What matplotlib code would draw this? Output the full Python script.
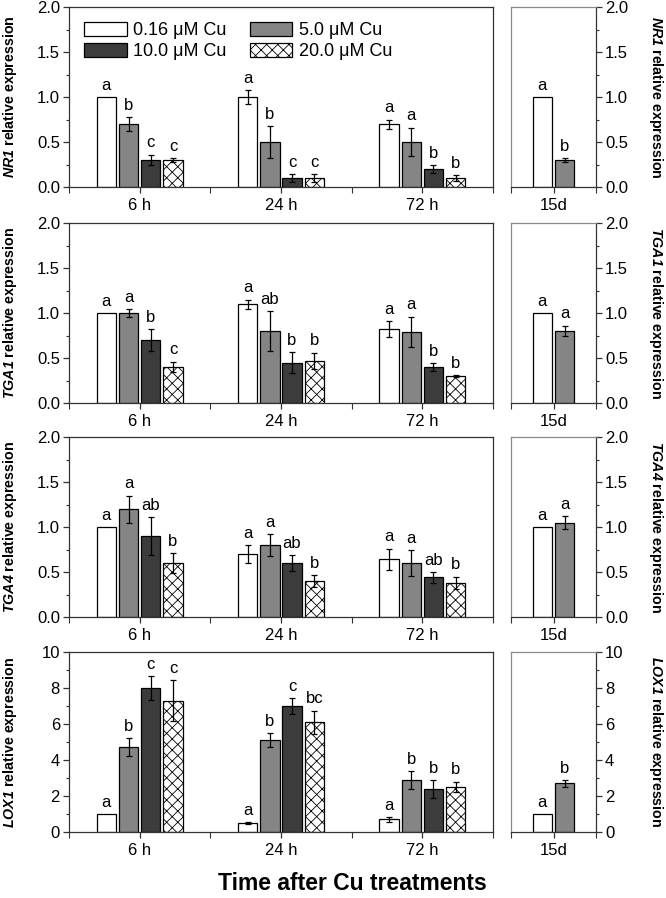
import matplotlib
matplotlib.use('Agg')
import matplotlib.pyplot as plt
from matplotlib.patches import Patch
from matplotlib.ticker import MultipleLocator, FixedLocator, FormatStrFormatter

plt.rcParams['font.family'] = ['Liberation Sans', 'DejaVu Sans']
plt.rcParams['mathtext.fontset'] = 'custom'
plt.rcParams['mathtext.rm'] = 'Liberation Sans'
plt.rcParams['mathtext.it'] = 'Liberation Sans:italic'
plt.rcParams['mathtext.bf'] = 'Liberation Sans:bold'
plt.rcParams['mathtext.bfit'] = 'Liberation Sans:bold:italic'
plt.rcParams['hatch.linewidth'] = 0.6

# ---------------- data ----------------
time_points = ['6 h', '24 h', '72 h']
long_term = '15d'
treatments = ['0.16 μM Cu', '5.0 μM Cu', '10.0 μM Cu', '20.0 μM Cu']
genes = ['NR1', 'TGA1', 'TGA4', 'LOX1']

# means per time point: [0.16, 5.0, 10.0, 20.0]
nr1_mean = [[1.0, 0.7, 0.3, 0.3], [1.0, 0.5, 0.1, 0.1], [0.7, 0.5, 0.2, 0.1]]
nr1_err = [[0.0, 0.08, 0.06, 0.02], [0.08, 0.18, 0.04, 0.04], [0.05, 0.16, 0.04, 0.03]]
nr1_letters = [['a', 'b', 'c', 'c'], ['a', 'b', 'c', 'c'], ['a', 'a', 'b', 'b']]
nr1_15d_mean = [1.0, 0.3]
nr1_15d_err = [0.0, 0.02]
nr1_15d_letters = ['a', 'b']

tga1_mean = [[1.0, 1.0, 0.7, 0.4], [1.1, 0.8, 0.45, 0.47], [0.82, 0.79, 0.4, 0.3]]
tga1_err = [[0.0, 0.04, 0.12, 0.06], [0.05, 0.22, 0.12, 0.09], [0.09, 0.17, 0.04, 0.01]]
tga1_letters = [['a', 'a', 'b', 'c'], ['a', 'ab', 'b', 'b'], ['a', 'a', 'b', 'b']]
tga1_15d_mean = [1.0, 0.8]
tga1_15d_err = [0.0, 0.06]
tga1_15d_letters = ['a', 'a']

tga4_mean = [[1.0, 1.2, 0.9, 0.6], [0.7, 0.8, 0.6, 0.4], [0.64, 0.6, 0.44, 0.38]]
tga4_err = [[0.0, 0.15, 0.21, 0.11], [0.1, 0.12, 0.09, 0.07], [0.12, 0.14, 0.06, 0.07]]
tga4_letters = [['a', 'a', 'ab', 'b'], ['a', 'a', 'ab', 'b'], ['a', 'a', 'ab', 'b']]
tga4_15d_mean = [1.0, 1.05]
tga4_15d_err = [0.0, 0.07]
tga4_15d_letters = ['a', 'a']

lox1_mean = [[1.0, 4.7, 8.0, 7.3], [0.5, 5.1, 7.0, 6.1], [0.7, 2.9, 2.4, 2.5]]
lox1_err = [[0.0, 0.5, 0.65, 1.15], [0.05, 0.4, 0.45, 0.65], [0.12, 0.5, 0.5, 0.3]]
lox1_letters = [['a', 'b', 'c', 'c'], ['a', 'b', 'c', 'bc'], ['a', 'b', 'b', 'b']]
lox1_15d_mean = [1.0, 2.7]
lox1_15d_err = [0.0, 0.2]
lox1_15d_letters = ['a', 'b']

y_max = [2.0, 2.0, 2.0, 10]
y_major = [0.5, 0.5, 0.5, 2]

# ---------------- style ----------------
face = ['white', '#858585', '#3c3c3c', 'white']
hatches = [None, None, None, 'xxx']
W, H = 666, 898
fig = plt.figure(figsize=(W / 100, H / 100), dpi=100)

panel_tops = [7, 223, 437, 652]
panel_h = 180
left_x0, left_w = 69, 424
right_x0, right_w = 511, 85
offsets = [-0.236, -0.078, 0.078, 0.236]
bw = 0.135
FS = 12

data = [
    (nr1_mean, nr1_err, nr1_letters, nr1_15d_mean, nr1_15d_err, nr1_15d_letters),
    (tga1_mean, tga1_err, tga1_letters, tga1_15d_mean, tga1_15d_err, tga1_15d_letters),
    (tga4_mean, tga4_err, tga4_letters, tga4_15d_mean, tga4_15d_err, tga4_15d_letters),
    (lox1_mean, lox1_err, lox1_letters, lox1_15d_mean, lox1_15d_err, lox1_15d_letters),
]


def draw_bar(ax, x, m, e, letter, k):
    ax.bar(x, m, bw, color=face[k], edgecolor='black', linewidth=0.9,
           hatch=hatches[k], zorder=2)
    if e > 0:
        ax.errorbar(x, m, yerr=e, fmt='none', ecolor='black', elinewidth=0.9,
                    capsize=2.5, capthick=0.9, zorder=3)
    ax.annotate(letter, (x, m + e), xytext=(0, 3), textcoords='offset points',
                ha='center', va='bottom', fontsize=FS)


for gi, gene in enumerate(genes):
    mean, err, letters, m15, e15, l15 = data[gi]
    top = panel_tops[gi]
    yb = 1 - (top + panel_h) / H
    hh = panel_h / H
    axl = fig.add_axes([left_x0 / W, yb, left_w / W, hh])
    axr = fig.add_axes([right_x0 / W, yb, right_w / W, hh])

    for ti in range(len(time_points)):
        for k in range(4):
            draw_bar(axl, ti + 1 + offsets[k], mean[ti][k], err[ti][k], letters[ti][k], k)
    for k in range(2):
        draw_bar(axr, [-0.08, 0.08][k], m15[k], e15[k], l15[k], k)

    for ax in (axl, axr):
        ax.set_ylim(0, y_max[gi])
        ax.yaxis.set_major_locator(MultipleLocator(y_major[gi]))
        ax.yaxis.set_minor_locator(MultipleLocator(y_major[gi] / 2))
        ax.tick_params(which='major', direction='out', length=4, width=0.9,
                       labelsize=FS, pad=2.5, color='#333333')
        ax.tick_params(which='minor', direction='out', length=2.5, width=0.8,
                       color='#333333')
        for s in ax.spines.values():
            s.set_linewidth(0.9)
            s.set_color('#333333')
        ax.yaxis.set_major_formatter(FormatStrFormatter('%d' if gi == 3 else '%.1f'))

    axl.set_xlim(0.5, 3.5)
    axl.xaxis.set_major_locator(FixedLocator([1, 2, 3]))
    axl.xaxis.set_minor_locator(FixedLocator([0.5, 1.5, 2.5, 3.5]))
    axl.set_xticklabels(time_points)
    axl.tick_params(axis='x', which='minor', length=4)
    axl.tick_params(axis='x', pad=4)

    axr.set_xlim(-0.3, 0.3)
    axr.xaxis.set_major_locator(FixedLocator([0]))
    axr.xaxis.set_minor_locator(FixedLocator([-0.3, 0.3]))
    axr.set_xticklabels([long_term])
    axr.tick_params(axis='x', which='minor', length=4)
    axr.tick_params(axis='x', pad=4)
    axr.yaxis.tick_right()
    axr.tick_params(axis='y', which='both', left=False, right=True)
    axr.spines['left'].set_color('#8a8a8a')
    axr.spines['top'].set_color('#8a8a8a')

    yc = 1 - (top + panel_h / 2) / H
    label = r'$\bfit{' + gene + r'}$ relative expression'
    fig.text(10 / W, yc, label, rotation=90, ha='center', va='center',
             fontsize=10.3, fontweight='bold')
    fig.text(656 / W, yc, label, rotation=270, ha='center', va='center',
             fontsize=10.3, fontweight='bold')

    if gi == 0:
        handles = [Patch(facecolor=face[k], edgecolor='black', linewidth=0.9,
                         hatch=hatches[k], label=treatments[k]) for k in range(4)]
        order = [0, 2, 1, 3]
        axl.legend([handles[i] for i in order], [treatments[i] for i in order],
                   ncol=2, loc='upper left', bbox_to_anchor=(0.0, 1.0),
                   frameon=False, fontsize=13, handlelength=2.35, handleheight=0.75,
                   handletextpad=0.35, columnspacing=1.3, labelspacing=0.22,
                   borderaxespad=0.45)

fig.text(352 / W, 1 - 884 / H, 'Time after Cu treatments', ha='center',
         va='center', fontsize=16.5, fontweight='bold')

fig.savefig('out.png', dpi=100)
